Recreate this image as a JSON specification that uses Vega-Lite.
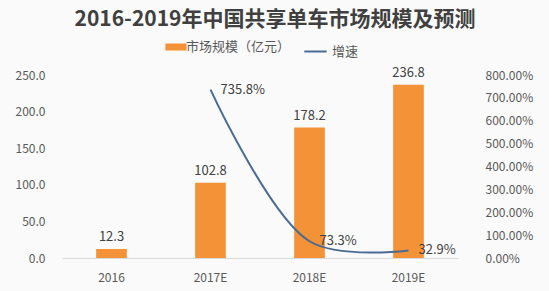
{
  "$schema": "https://vega.github.io/schema/vega-lite/v6.json",
  "autosize": "none",
  "width": 396,
  "height": 183,
  "padding": {"left": 62, "top": 75, "right": 91, "bottom": 33},
  "background": "#fafafa",
  "config": {
    "view": {"stroke": null},
    "font": "Noto Sans CJK SC",
    "axis": {"labelFont": "Noto Sans CJK SC", "labelColor": "#595959", "labelFontSize": 12, "grid": false, "ticks": false, "domain": false, "labelOverlap": false}
  },
  "title": {
    "text": "2016-2019年中国共享单车市场规模及预测",
    "fontSize": 21,
    "fontWeight": "bold",
    "color": "#404040",
    "anchor": "middle",
    "frame": "group",
    "dx": 15,
    "offset": 9
  },
  "data": {
    "values": [
      {"year": "2016", "size": 12.3, "growth": null, "glabel": ""},
      {"year": "2017E", "size": 102.8, "growth": 735.8, "glabel": "735.8%"},
      {"year": "2018E", "size": 178.2, "growth": 73.3, "glabel": "73.3%"},
      {"year": "2019E", "size": 236.8, "growth": 32.9, "glabel": "32.9%"}
    ]
  },
  "encoding": {
    "x": {
      "field": "year", "type": "nominal", "sort": null, "title": null,
      "scale": {"paddingInner": 0.69, "paddingOuter": 0.345},
      "axis": {"labelAngle": 0, "labelPadding": 14, "domain": true, "domainColor": "#d9d9d9", "labelFontSize": 12}
    }
  },
  "layer": [
    {
      "mark": {"type": "bar", "color": "#f39237"},
      "encoding": {
        "y": {"field": "size", "type": "quantitative", "title": null,
          "scale": {"domain": [0, 250]},
          "axis": {"values": [0, 50, 100, 150, 200, 250], "format": ".1f", "labelPadding": 17, "labelOverlap": false}},
        "fill": {"datum": "市场规模（亿元）", "type": "nominal",
          "scale": {"range": ["#f39237"]},
          "legend": {"orient": "none", "legendX": 106, "legendY": -36, "title": null,
            "symbolType": "M-1.5,-0.5L1.5,-0.5L1.5,0.5L-1.5,0.5Z", "symbolSize": 200,
            "labelFontSize": 13, "labelColor": "#595959", "labelOffset": 2}}
      }
    },
    {
      "mark": {"type": "text", "dy": -12, "fontSize": 13, "color": "#404040"},
      "encoding": {
        "y": {"field": "size", "type": "quantitative", "scale": {"domain": [0, 250]}, "axis": null},
        "text": {"field": "size", "type": "quantitative", "format": ".1f"}
      }
    },
    {
      "transform": [{"filter": "datum.growth != null"}],
      "mark": {"type": "line", "interpolate": "catmull-rom", "strokeWidth": 2},
      "encoding": {
        "y": {"field": "growth", "type": "quantitative", "title": null,
          "scale": {"domain": [0, 800]},
          "axis": {"orient": "right", "values": [0, 100, 200, 300, 400, 500, 600, 700, 800],
            "labelExpr": "format(datum.value, '.2f') + '%'", "labelPadding": 27, "labelOverlap": false}},
        "stroke": {"datum": "增速", "type": "nominal",
          "scale": {"range": ["#4a6b96"]},
          "legend": {"orient": "none", "legendX": 241, "legendY": -36, "title": null,
            "symbolType": "stroke", "symbolSize": 500, "symbolStrokeWidth": 2,
            "labelFontSize": 13, "labelColor": "#595959", "labelOffset": 4}}
      }
    },
    {
      "transform": [{"filter": "datum.growth != null"}],
      "mark": {"type": "text", "align": "left", "dx": 10, "dy": 0, "fontSize": 13, "color": "#404040"},
      "encoding": {
        "y": {"field": "growth", "type": "quantitative", "scale": {"domain": [0, 800]}, "axis": null},
        "text": {"field": "glabel"}
      }
    }
  ],
  "resolve": {"scale": {"y": "independent"}}
}
